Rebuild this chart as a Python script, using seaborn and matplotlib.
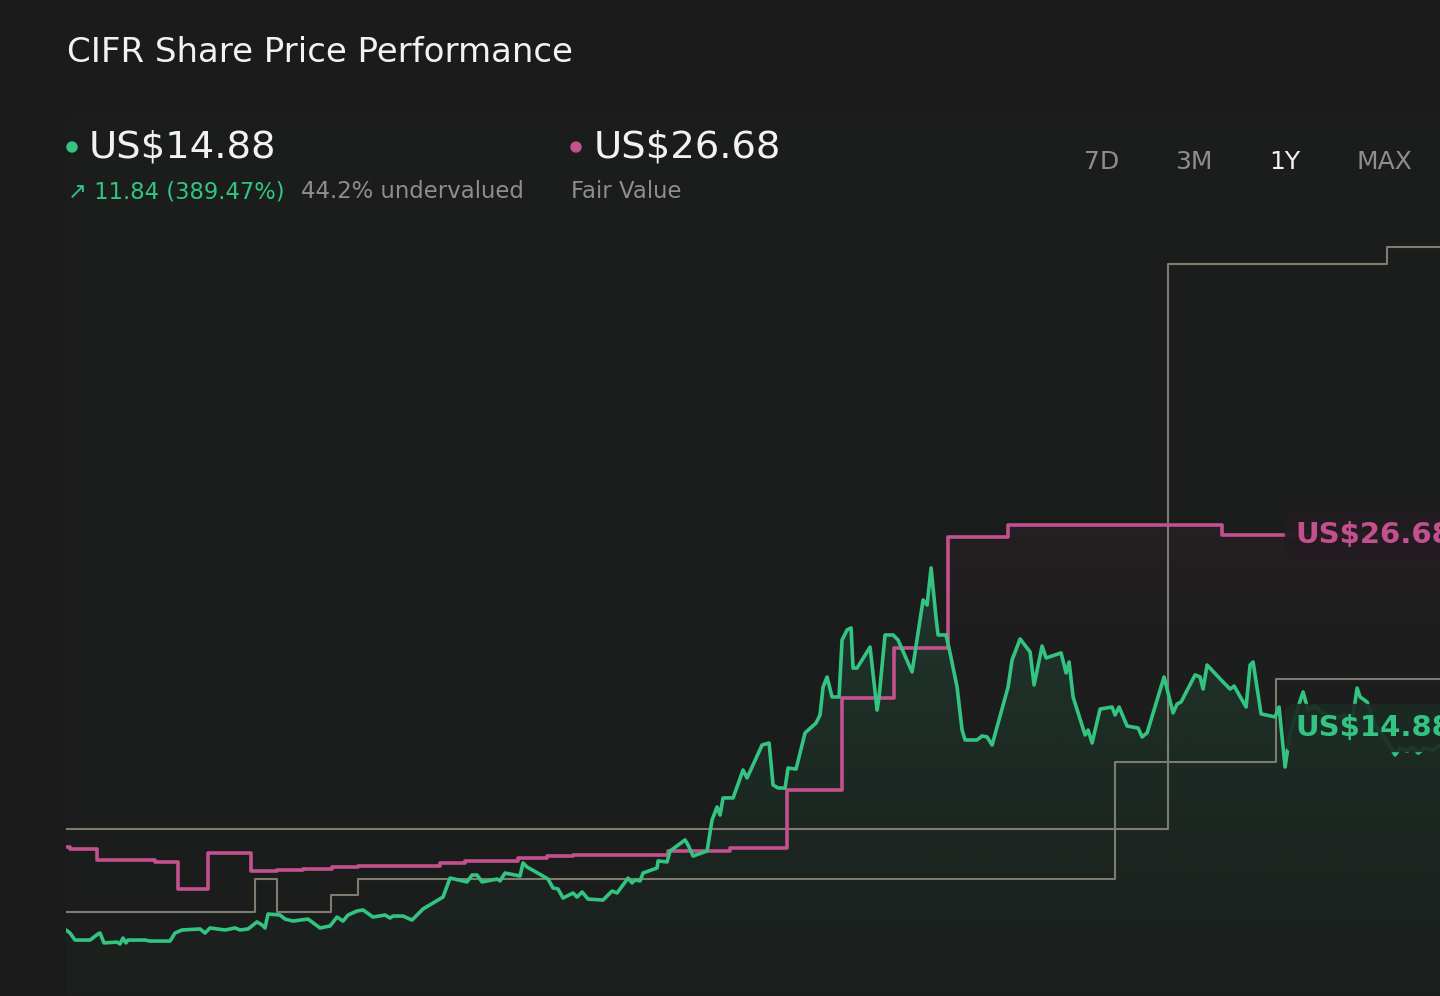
import numpy as np
import pandas as pd
import matplotlib
matplotlib.use("Agg")
import matplotlib.pyplot as plt
from matplotlib.patches import Circle
import matplotlib.dates as mdates
import seaborn as sns

# DATA (days since start of the 1Y window, values in US$)

START_DATE = "2024-11-14"

price_days = [
    0, 1.06, 2.39, 6.38, 8.50, 9.03, 10.10, 13.55, 14.35, 15.14, 15.94, 16.47,
    20.99, 22.32, 27.63, 28.96, 30.82, 35.60, 36.93, 38.26, 42.24, 44.90, 46.23,
    48.35, 50.74, 52.07, 52.87, 53.67, 56.85, 58.18, 60.31, 62.17, 64.29, 67.48,
    70.14, 72.00, 73.59, 74.92, 77.31, 78.90, 81.56, 84.75, 86.08, 86.87, 89.53,
    91.92, 93.25, 94.84, 100.16, 102.02, 106.53, 107.86, 109.19, 110.52, 114.50,
    115.30, 116.63, 120.61, 121.41, 122.47, 126.72, 128.05, 129.38, 130.71,
    132.04, 134.69, 135.76, 137.09, 138.68, 142.66, 145.06, 146.38, 149.31,
    150.37, 151.17, 152.49, 153.29, 157.01, 157.28, 159.67, 160.47, 164.45,
    165.25, 166.58, 170.30, 171.62, 172.95, 173.75, 174.55, 177.21, 179.86,
    180.92, 184.91, 186.77, 187.83, 189.16, 191.02, 191.81, 193.94, 196.33,
    199.25, 200.31, 201.11, 202.17, 203.50, 205.36, 206.16, 207.49, 208.55,
    209.08, 210.14, 213.60, 215.46, 215.99, 217.58, 219.71, 221.04, 224.76,
    227.68, 228.74, 229.81, 231.13, 231.67, 233.79, 234.85, 236.71, 238.04,
    238.84, 242.03, 243.36, 244.68, 246.01, 250.26, 251.32, 253.45, 256.11,
    257.17, 259.29, 260.36, 264.34, 265.67, 266.47, 267.53, 270.72, 271.52,
    272.58, 274.70, 277.89, 278.69, 279.75, 281.88, 284.80, 285.86, 287.19,
    291.70, 294.09, 295.16, 296.22, 299.94, 301.27, 302.06, 303.13, 307.38,
    309.24, 310.30, 313.49, 314.55, 315.35, 317.47, 321.19, 322.25, 323.85,
    325.18, 327.04, 328.63, 329.96, 331.82, 333.95, 337.14, 339.79, 341.65,
    342.98, 343.78, 345.64, 347.76, 350.42, 353.08, 354.41, 356.27, 357.86,
    359.19, 361.05, 363.18, 365,
]
price_values = [
    3.16, 2.98, 2.56, 2.56, 2.92, 2.98, 2.39, 2.44, 2.33, 2.68, 2.39, 2.56,
    2.56, 2.50, 2.50, 2.98, 3.16, 3.22, 2.98, 3.28, 3.16, 3.28, 3.16,
    3.22, 3.64, 3.46, 3.28, 4.11, 4.05, 3.81, 3.69, 3.75, 3.81, 3.28,
    3.40, 3.93, 3.69, 4.05, 4.29, 4.35, 3.93, 4.05, 3.87, 3.99, 3.99,
    3.75, 4.05, 4.41, 5.12, 6.25, 6.02, 6.43, 6.43, 6.02, 6.19,
    6.08, 6.55, 6.37, 7.15, 6.91, 6.37, 6.19, 5.66, 5.60,
    5.06, 5.36, 5.12, 5.42, 5.00, 4.94, 5.48, 5.36, 6.25,
    5.96, 6.14, 6.08, 6.55, 6.85, 7.27, 7.21, 7.86, 8.52,
    8.22, 7.56, 7.86, 9.71, 10.48, 10.00, 11.02, 11.02, 12.68,
    12.21, 14.17, 14.29, 11.79, 11.61, 11.61, 12.80, 12.74, 14.89,
    15.48, 15.96, 17.62, 18.22, 17.03, 17.03, 20.42, 21.02, 21.14,
    18.75, 18.75, 20.00, 16.25, 17.03, 20.72, 20.72, 20.42, 18.52,
    22.80, 22.50, 24.71, 21.73, 20.72, 20.72, 19.65, 17.62, 15.06,
    14.47, 14.47, 14.71, 14.65, 14.17, 17.62, 19.23, 20.48, 19.71,
    17.74, 20.06, 19.35, 19.65, 18.46, 19.11, 17.03, 14.77, 15.06,
    14.29, 16.31, 16.43, 15.96, 16.43, 15.30, 15.18, 14.65, 14.89,
    18.22, 16.08, 16.61, 16.73, 18.34, 18.22, 17.50, 18.93, 17.92,
    17.50, 17.68, 16.43, 18.93, 19.11, 16.02, 15.84, 16.43, 12.86,
    14.89, 16.25, 17.33, 16.25, 16.49, 16.08, 15.78, 15.96, 15.54,
    17.56, 17.03, 16.73, 15.36, 14.59, 13.58, 13.99, 13.81, 14.05,
    13.69, 13.99, 13.87, 14.17,
]

fair_value_days = [
    0, 1.06, 8.24, 23.64, 29.76, 37.73, 49.15, 56.06, 62.96, 70.67, 77.58,
    99.36, 106.00, 120.08, 127.79, 134.69, 159.93, 176.41, 191.55, 206.16,
    219.98, 234.32, 250.26, 307.11, 365,
]
fair_value_values = [
    8.10, 7.98, 7.33, 7.21, 5.60, 7.74, 6.67, 6.73, 6.79, 6.91, 6.97,
    7.15, 7.27, 7.44, 7.56, 7.62, 7.86, 8.04, 11.49, 16.97,
    19.94, 26.55, 27.27, 26.68, 26.68,
]

target_low_days = [0, 50.21, 56.06, 70.40, 77.58, 278.69, 321.46, 365]
target_low_values = [4.23, 6.19, 4.23, 5.24, 6.19, 13.16, 18.10, 18.10]

target_high_days = [0, 292.77, 350.95, 365]
target_high_values = [9.17, 42.80, 43.81, 43.81]

last_price = "US$14.88"
fair_value = "US$26.68"
price_change = "11.84 (389.47%)"
valuation_note = "44.2% undervalued"
period_buttons = ["7D", "3M", "1Y", "MAX"]
selected_period = "1Y"

# STYLE

BG = "#1b1b1b"
PANEL = "#1b1d1c"
GREEN = "#33c481"
PINK = "#c4508f"
GREY_LINE = "#7f7b6f"
TEXT_GREY = "#8e8e8e"
WHITE = "#f2f2f2"

W, H, DPI = 1440, 996, 100
Y_MIN, Y_MAX = -0.77, 51.67


def to_frame(days, values):
    start = pd.Timestamp(START_DATE)
    return pd.DataFrame({
        "date": start + pd.to_timedelta(days, unit="D"),
        "value": values,
    })


def gradient_fill(ax, frame, color, top_alpha, bottom_alpha, power=1.0,
                  step=None, zorder=1):
    poly = ax.fill_between(
        frame["date"], frame["value"], Y_MIN,
        color="none", step=step, linewidth=0
    )
    rgb = matplotlib.colors.to_rgb(color)
    n = 256
    grad = np.zeros((n, 1, 4))
    grad[:, 0, :3] = rgb
    t = np.linspace(0, 1, n) ** power
    grad[:, 0, 3] = bottom_alpha + (top_alpha - bottom_alpha) * t
    x_num = mdates.date2num(frame["date"])
    img = ax.imshow(
        grad, aspect="auto", origin="lower",
        extent=[x_num.min(), x_num.max(), Y_MIN, frame["value"].max()],
        zorder=zorder, interpolation="bilinear"
    )
    img.set_clip_path(poly.get_paths()[0], transform=ax.transData)


price = to_frame(price_days, price_values)
fair = to_frame(fair_value_days, fair_value_values)
low = to_frame(target_low_days, target_low_values)
high = to_frame(target_high_days, target_high_values)

sns.set_theme(style="dark")
plt.rcParams["font.family"] = ["DejaVu Sans"]

fig = plt.figure(figsize=(W / DPI, H / DPI), dpi=DPI, facecolor=BG)
ax = fig.add_axes([66 / W, 0, 1374 / W, 881 / H])
ax.set_facecolor(PANEL)

gradient_fill(ax, fair, PINK, 0.06, 0.0, power=4, step="post", zorder=1)
gradient_fill(ax, price, GREEN, 0.16, 0.015, power=1.3, zorder=2)

for frame in (high, low):
    sns.lineplot(
        data=frame, x="date", y="value", ax=ax,
        color=GREY_LINE, linewidth=1.5, drawstyle="steps-post",
        errorbar=None, zorder=3
    )

sns.lineplot(
    data=fair, x="date", y="value", ax=ax,
    color=PINK, linewidth=2.6, drawstyle="steps-post",
    errorbar=None, zorder=4
)
sns.lineplot(
    data=price, x="date", y="value", ax=ax,
    color=GREEN, linewidth=2.6, errorbar=None, zorder=5
)

ax.set_xlim(price["date"].iloc[0], price["date"].iloc[-1])
ax.set_ylim(Y_MIN, Y_MAX)
ax.set_xlabel("")
ax.set_ylabel("")
ax.set_xticks([])
ax.set_yticks([])
for spine in ax.spines.values():
    spine.set_visible(False)

# END LABELS (cut by the right edge, as in the source chart)

label_x = (1295 - 66) / 1374
ax.annotate(
    fair_value, xy=(label_x, fair_value_values[-1]),
    xycoords=("axes fraction", "data"),
    va="center", ha="left", fontsize=21, fontweight="bold", color=PINK,
    bbox=dict(boxstyle="round,pad=0.35", fc="#221c20", ec="none", alpha=0.95),
    zorder=10, annotation_clip=False
)
ax.annotate(
    last_price, xy=(label_x, 15.18),
    xycoords=("axes fraction", "data"),
    va="center", ha="left", fontsize=21, fontweight="bold", color=GREEN,
    bbox=dict(boxstyle="round,pad=0.35", fc="#1c2b23", ec="none", alpha=0.92),
    zorder=10, annotation_clip=False
)

# HEADER


def fy(px):
    return 1 - px / H


fig.text(67 / W, fy(53), "CIFR Share Price Performance",
         fontsize=24.5, color=WHITE, va="center", ha="left")

fig.add_artist(Circle((72 / DPI, (H - 147) / DPI), 0.05,
                      transform=fig.dpi_scale_trans, color=GREEN))
fig.text(89 / W, fy(147), last_price, fontsize=27.7, color=WHITE,
         va="center", ha="left")
fig.text(68 / W, fy(192), "\u2197 " + price_change, fontsize=16.3,
         color=GREEN, va="center", ha="left")
fig.text(301 / W, fy(192), valuation_note, fontsize=16.4,
         color=TEXT_GREY, va="center", ha="left")

fig.add_artist(Circle((576 / DPI, (H - 147) / DPI), 0.05,
                      transform=fig.dpi_scale_trans, color=PINK))
fig.text(594 / W, fy(147), fair_value, fontsize=27.7, color=WHITE,
         va="center", ha="left")
fig.text(571 / W, fy(192), "Fair Value", fontsize=16.4,
         color=TEXT_GREY, va="center", ha="left")

button_centres = [1102, 1194, 1285, 1384]
for label, cx in zip(period_buttons, button_centres):
    fig.text(cx / W, fy(162), label, fontsize=18,
             color=WHITE if label == selected_period else TEXT_GREY,
             va="center", ha="center")

fig.savefig("out.png", dpi=DPI, facecolor=BG)
